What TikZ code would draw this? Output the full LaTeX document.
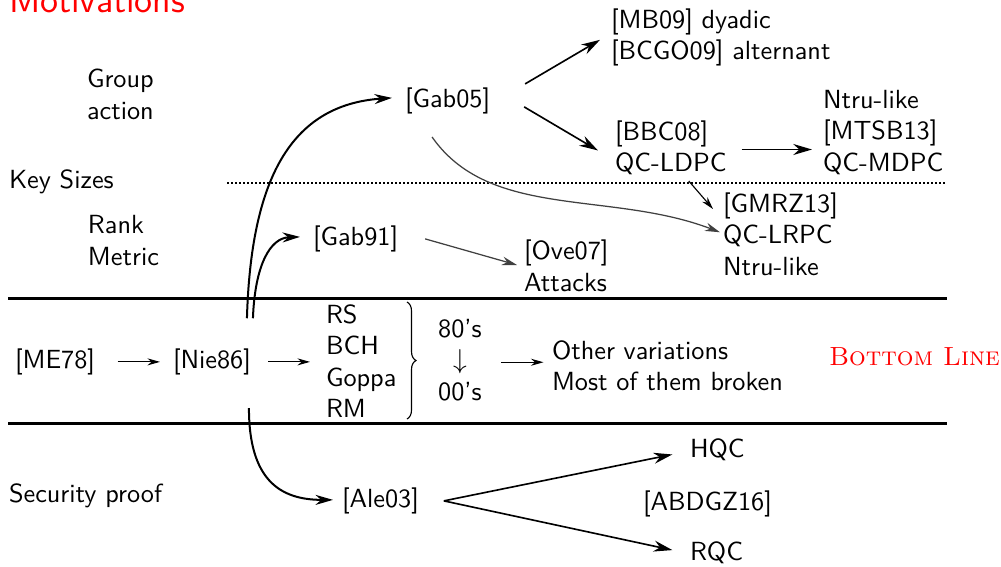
\documentclass[tikz,border=0pt]{standalone}
\usetikzlibrary{arrows.meta,calc,decorations.pathreplacing}
\begin{document}
\begin{tikzpicture}[x=0.4pt,y=-0.4pt,
  every node/.style={inner sep=0pt, outer sep=0pt, font=\sffamily\fontsize{10.5}{12.6}\selectfont},
  lbl/.style={anchor=base west, text height=7.5pt, text depth=2.6pt},
  blk/.style={anchor=north west, align=left},
  rule/.style={line width=0.9pt},
  bigarr/.style={line width=0.8pt, -{Stealth[length=7pt,width=4pt]}},
  midarr/.style={line width=0.65pt, -{Stealth[length=7.5pt,width=4.4pt]}},
  thinarr/.style={line width=0.45pt, -{Stealth[length=5pt,width=2.8pt]}},
  faintarr/.style={line width=0.5pt, draw=black!75, -{Stealth[length=6pt,width=3.4pt]}},
]
\useasboundingbox (0,0) rectangle (1001,567);
\clip (0,0) rectangle (1001,567);

% frame title
\node[anchor=base west, text=red, font=\sffamily\fontsize{14.7}{17}\selectfont] (title) at (9,12.5) {Motivations};

% row labels
\node[blk] (grp) at (87,65.5) {\strut Group\\action};
\node[lbl] (keys) at (9,188) {Key Sizes};
\node[blk] (rank) at (88,211.5) {\strut Rank\\Metric};
\node[lbl] (sec) at (9,502) {Security proof};

% separators
\draw[line width=0.7pt, dash pattern=on 0.7pt off 0.9pt] (227,183) -- (947,183);
\draw[rule] (8,298.5) -- (947,298.5);
\draw[rule] (8,423.5) -- (947,423.5);

% middle row
\node[lbl] (me) at (15,368) {[ME78]};
\node[lbl] (nie) at (173,368) {[Nie86]};
\node[blk] (codes) at (326,301) {\strut RS\\BCH\\Goppa\\RM};
\node[anchor=north, align=center] (dec) at (460,315) {\strut 80’s\\$\downarrow$\\00’s\strut};
\node[blk] (other) at (552,337) {\strut Other variations\\Most of them broken};
\node[anchor=base west, text=red, font=\rmfamily\fontsize{10.5}{12.6}\selectfont] (bottom) at (829,365) {\textsc{Bottom Line}};
\draw[line width=0.45pt, decorate, decoration={brace, amplitude=3.6pt}] (407,302) -- (407,419);

\draw[thinarr, shorten <=9pt, shorten >=5.2pt] (me.east) -- (nie.west);
\draw[thinarr, shorten <=7pt, shorten >=6.4pt] (nie.east) -- (nie.east -| codes.west);
\draw[thinarr, shorten <=7.6pt, shorten >=3.4pt] (dec.east) -- (dec.east -| other.west);

% upper rows
\node[lbl] (gab05) at (405,107) {[Gab05]};
\node[lbl] (gab91) at (313,245) {[Gab91]};
\node[blk] (mb) at (611,6.3) {\strut [MB09] dyadic\\{}[BCGO09] alternant};
\node[blk] (bbc) at (615,118) {\strut [BBC08]\\QC-LDPC\strut};
\node[blk] (mtsb) at (823,86) {\strut Ntru-like\\{}[MTSB13]\\QC-MDPC};
\node[blk] (gmrz) at (723,190) {\strut [GMRZ13]\\QC-LRPC\\Ntru-like\strut};
\node[blk] (ove) at (524,237.5) {\strut [Ove07]\\Attacks\strut};

% bottom row
\node[lbl] (ale) at (342,507) {[Ale03]};
\node[lbl] (hqc) at (690,457) {HQC};
\node[lbl] (abd) at (643,510) {[ABDGZ16]};
\node[lbl] (rqc) at (690,560) {RQC};

\coordinate (nieA) at ($(nie.north east)+(-4,-31)$);
\coordinate (nieB) at ($(nie.north east)+(2,-31)$);
\coordinate (nieC) at ($(nie.south east)+(-2,33.5)$);

\draw[bigarr] (nieA) .. controls +(4,-138) and +(-102,7) .. ($(gab05.west)+(-13,-3)$);
\draw[bigarr] (nieB) .. controls +(2,-53) and +(-30,1) .. ($(gab91.west)+(-13,-2)$);
\draw[bigarr] (nieC) .. controls +(0,72) and +(-53,0) .. ($(ale.west)+(-9,-1)$);

\draw[midarr] ($(gab05.east)+(35,-17)$) -- ($(mb.west)+(-11,3.5)$);
\draw[midarr] ($(gab05.east)+(34,6)$) -- ($(bbc.west)+(-17,1)$);
\draw[midarr, shorten <=6pt, shorten >=4.4pt] (bbc.east) -- (bbc.east -| mtsb.west);
\draw[thinarr] ($(bbc.south)+(18,0)$) -- ($(gmrz.north west)+(-10,19)$);
\draw[faintarr] ($(gab05.south)+(-15.5,23.5)$) .. controls +(58,83) and +(-110,-42) .. ($(gmrz.west)+(-3,-5)$);
\draw[faintarr] ($(gab91.east)+(27,0)$) -- ($(ove.west)+(-7,-4)$);

\coordinate (aleR) at ($(ale.east)+(25,0)$);
\draw[midarr, shorten >=7.2pt] (aleR) -- (hqc.west);
\draw[midarr, shorten >=7.2pt] (aleR) -- (rqc.west);
\end{tikzpicture}
\end{document}
